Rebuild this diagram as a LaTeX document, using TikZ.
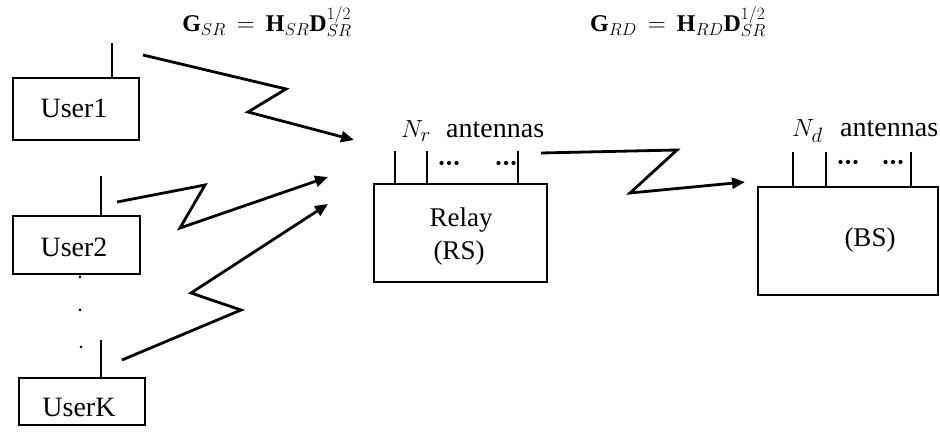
\documentclass[tikz,border=0pt]{standalone}
\usepackage{fontspec}
\setmainfont{Liberation Serif}
\usetikzlibrary{arrows.meta}
\begin{document}
\begin{tikzpicture}[x=1pt,y=-1pt,
  box/.style={draw, line width=2.8pt, inner sep=0pt, outer sep=0pt, anchor=north west},
  lbl/.style={inner sep=0pt, anchor=base, font=\fontsize{28}{32}\selectfont},
  blbl/.style={inner sep=0pt, anchor=base, font=\fontsize{27}{32}\selectfont},
  alb/.style={inner sep=0pt, anchor=base west, font=\fontsize{28}{32}\selectfont},
  frm/.style={inner sep=0pt, anchor=base, font=\fontsize{24}{28}\selectfont},
  ant/.style={line width=2.8pt},
  link/.style={line width=2.8pt, line join=miter, -{Triangle[length=13pt,width=11pt]}},
  dotpt/.style={fill=black}
  ]
\useasboundingbox (0,0) rectangle (940,435);

% formulas
\node[frm] (gsr) at (267,32) {$\mathbf{G}_{SR} \,=\, \mathbf{H}_{SR}\mathbf{D}_{SR}^{1/2}$};
\node[frm] (grd) at (678,32) {$\mathbf{G}_{RD} \,=\, \mathbf{H}_{RD}\mathbf{D}_{SR}^{1/2}$};

% users
\node[box, minimum width=126pt, minimum height=62pt] (u1) at (13,78) {};
\node[lbl] (u1t) at (74,118) {User1};
\draw[ant] (112,78) -- (112,43);

\node[box, minimum width=127pt, minimum height=58pt] (u2) at (13,216) {};
\node[lbl] (u2t) at (74,257) {User2};
\draw[ant] (101,216) -- (101,176);

\node[box, minimum width=126pt, minimum height=47pt] (uk) at (19,378) {};
\node[lbl] (ukt) at (79,417) {UserK};
\draw[ant] (101,378) -- (101,340);

\fill[dotpt] (80,277) circle (1.5pt);
\fill[dotpt] (80,310) circle (1.5pt);
\fill[dotpt] (81,347) circle (1.5pt);

% relay
\node[box, minimum width=173pt, minimum height=98pt] (relay) at (374,184) {};
\node[blbl] (relayt) at (461,227) {Relay};
\node[blbl] (rst) at (459,260) {(RS)};
\draw[ant] (395,184) -- (395,151);
\draw[ant] (427,184) -- (427,151);
\draw[ant] (518,184) -- (518,151);
\foreach \c in {449,506} {
  \foreach \d in {-7.5,0,7.5} \fill[dotpt] (\c+\d,163) circle (2.1pt);
}
\node[alb] (nr) at (401,138) {$N_r$};
\node[alb] (nra) at (446,138) {antennas};

% BS
\node[box, minimum width=180pt, minimum height=108pt] (bs) at (758,187) {};
\node[blbl] (bst) at (870,247) {(BS)};
\draw[ant] (793,187) -- (793,152);
\draw[ant] (826,187) -- (826,152);
\draw[ant] (911,187) -- (911,152);
\foreach \c in {848,893} {
  \foreach \d in {-7.5,0,7.5} \fill[dotpt] (\c+\d,162) circle (2.1pt);
}
\node[alb] (nd) at (792,137) {$N_d$};
\node[alb] (nda) at (840,137) {antennas};

% links
\coordinate (a1s) at (143,55);
\coordinate (a1e) at (354,140);
\draw[link] (a1s) -- (286,89) -- (248,112) -- (a1e);

\coordinate (a2s) at (117,202);
\coordinate (a2e) at (328,177);
\draw[link] (a2s) -- (205,185) -- (180,228) -- (a2e);

\coordinate (aks) at (122,360);
\coordinate (ake) at (328,204);
\draw[link] (aks) -- (241,310) -- (191,293) -- (ake);

\coordinate (a3s) at (541,153);
\coordinate (a3e) at (745,182);
\draw[link] (a3s) -- (677,150) -- (630,193) -- (a3e);
\end{tikzpicture}
\end{document}
